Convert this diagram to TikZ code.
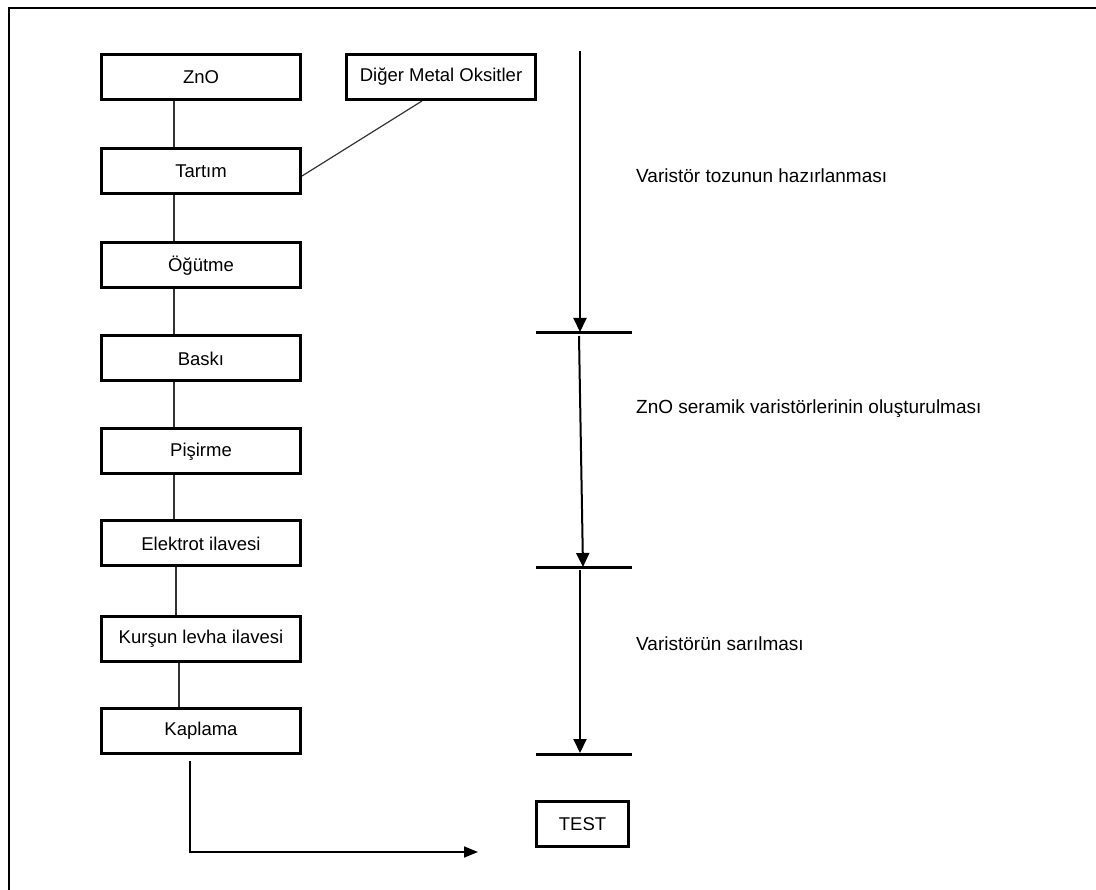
\documentclass[tikz,border=0pt]{standalone}
\usepackage{fontspec}
\setmainfont{Liberation Sans}
\usetikzlibrary{arrows.meta}
\begin{document}
\begin{tikzpicture}[x=1pt,y=-1pt,
  procbox/.style={draw, line width=3pt, minimum width=199pt, minimum height=45pt, inner sep=0pt, font=\fontsize{18.5}{20}\selectfont},
  conn/.style={line width=1.2pt, draw=black!80},
  flow/.style={line width=2pt, -{Triangle[length=14pt,width=13pt]}},
  bar/.style={line width=3pt},
  lbl/.style={anchor=west, inner sep=0pt, font=\fontsize{19}{21}\selectfont}]
\useasboundingbox (0,0) rectangle (1096,890);
\draw[line width=2pt] (1096,8) -- (9,8) -- (9,890);
% process boxes
\node[procbox] (zno) at (201,77) {ZnO};
\node[procbox, minimum width=189pt] (diger) at (441,77) {Diğer Metal Oksitler};
\node[procbox] (tartim) at (201,171) {Tartım};
\node[procbox] (ogutme) at (201,265.5) {Öğütme};
\node[procbox] (baski) at (201,358.5) {Baskı};
\node[procbox] (pisirme) at (201,451.5) {Pişirme};
\node[procbox] (elektrot) at (201,543.5) {Elektrot ilavesi};
\node[procbox] (kursun) at (201,638.5) {Kurşun levha ilavesi};
\node[procbox] (kaplama) at (201,731) {Kaplama};
\node[procbox, minimum width=92pt] (test) at (582.5,824) {TEST};
% connectors
\draw[conn] ([xshift=-27pt]zno.south) -- ([xshift=-27pt]tartim.north);
\draw[conn] ([xshift=-27pt]tartim.south) -- ([xshift=-27pt]ogutme.north);
\draw[conn] ([xshift=-27pt]ogutme.south) -- ([xshift=-27pt]baski.north);
\draw[conn] ([xshift=-27pt]baski.south) -- ([xshift=-27pt]pisirme.north);
\draw[conn] ([xshift=-27pt]pisirme.south) -- ([xshift=-27pt]elektrot.north);
\draw[conn] ([xshift=-25pt]elektrot.south) -- ([xshift=-25pt]kursun.north);
\draw[conn] ([xshift=-22pt]kursun.south) -- ([xshift=-22pt]kaplama.north);
\draw[conn] ([xshift=-19pt]diger.south) -- ([yshift=-5pt]tartim.east);
\coordinate (kend) at (478,852);
\draw[line width=1.6pt, -{Triangle[length=14pt,width=11pt]}] ([xshift=-11pt,yshift=-6pt]kaplama.south) |- (kend);
% right side stages
\coordinate (top) at (580,51);
\coordinate (b1l) at (536,333); \coordinate (b1r) at (632,333);
\coordinate (b2l) at (536,568); \coordinate (b2r) at (632,568);
\coordinate (b3l) at (536,754); \coordinate (b3r) at (632,754);
\draw[bar] (b1l) -- (b1r);
\draw[bar] (b2l) -- (b2r);
\draw[bar] (b3l) -- (b3r);
\coordinate (a2s) at (579,336); \coordinate (a2e) at (583,567);
\coordinate (a3s) at (580,570); \coordinate (a3e) at (580,753);
\draw[flow] (top) -- (580,332);
\draw[flow] (a2s) -- (a2e);
\draw[flow] (a3s) -- (a3e);
\node[lbl] (l1) at (636,176) {Varistör tozunun hazırlanması};
\node[lbl] (l2) at (636,409) {ZnO seramik varistörlerinin oluşturulması};
\node[lbl] (l3) at (636,644) {Varistörün sarılması};
\end{tikzpicture}
\end{document}
